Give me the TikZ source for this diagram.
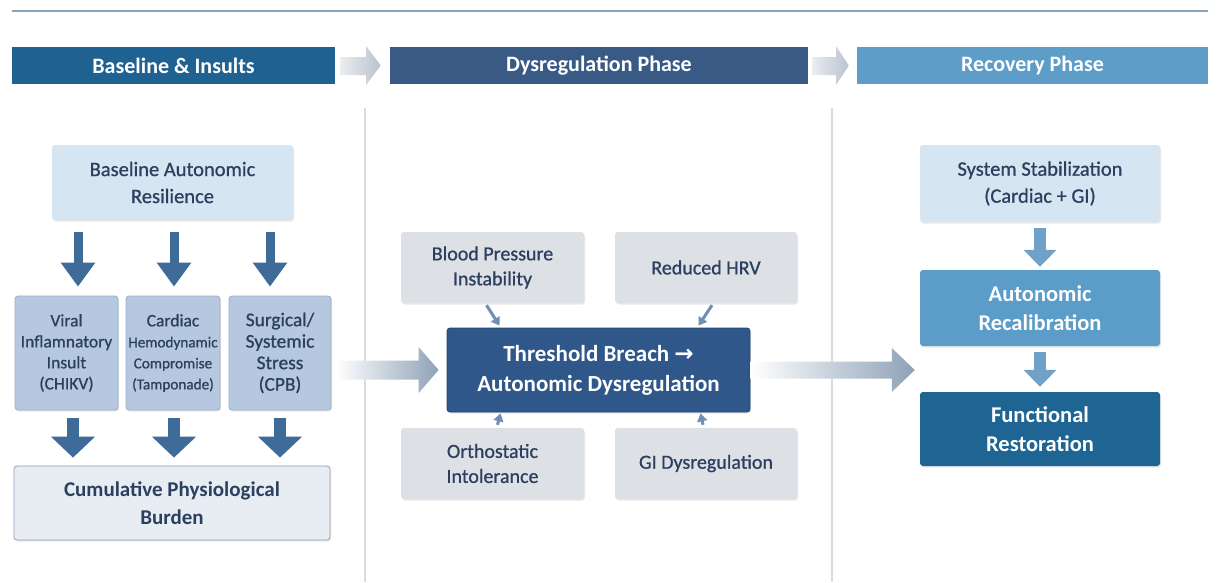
\documentclass[tikz,border=0pt]{standalone}
\usepackage{fontspec}
\setmainfont{Carlito}
\newfontfamily\medfont{Carlito}[FakeBold=0.8]
\newfontfamily\arrfont{DejaVu Sans}
\usetikzlibrary{arrows.meta,calc,shadows}
\definecolor{hdrA}{HTML}{1F6190}
\definecolor{hdrB}{HTML}{3A5A86}
\definecolor{hdrC}{HTML}{5D9DC8}
\definecolor{txtD}{HTML}{2B3F5E}
\definecolor{lightBlue}{HTML}{D5E5F1}
\definecolor{insFill}{HTML}{B6C8DF}
\definecolor{insLine}{HTML}{9AAFCB}
\definecolor{cumFill}{HTML}{E8EDF4}
\definecolor{cumLine}{HTML}{8E9EB3}
\definecolor{grayFill}{HTML}{DDE0E5}
\definecolor{thrFill}{HTML}{2F578A}
\definecolor{thrLine}{HTML}{23436F}
\definecolor{recFill}{HTML}{5B9CC8}
\definecolor{funcFill}{HTML}{1F6594}
\definecolor{arrDark}{HTML}{3F6B98}
\definecolor{arrSmall}{HTML}{6F90B4}
\definecolor{arrRight}{HTML}{6FA1C9}
\definecolor{sepGray}{HTML}{D8DBE0}
\definecolor{bigGray}{HTML}{8FA2B8}
\definecolor{hdrArr}{HTML}{B9C3CF}
\definecolor{topLine}{HTML}{8AA2BC}
\begin{document}
\begin{tikzpicture}[x=1pt,y=-1pt,
  box/.style={rounded corners=3pt,align=center,inner sep=2pt,
    drop shadow={opacity=0.18,shadow xshift=1pt,shadow yshift=-1.5pt}},
  hdr/.style={minimum height=37pt,text=white,font=\fontsize{22}{24}\selectfont\bfseries,inner sep=0pt,align=center},
  lbox/.style={box,fill=lightBlue,text=txtD,font=\medfont\fontsize{20.5}{27}\selectfont},
  ins/.style={box,fill=insFill,draw=insLine,line width=0.8pt,text=txtD,minimum height=114pt,font=\medfont\fontsize{17.5}{21}\selectfont},
  gbox/.style={box,fill=grayFill,text=txtD,minimum width=183pt,minimum height=71pt,font=\medfont\fontsize{20}{25}\selectfont},
  bigdown/.style={draw=arrDark,line width=9pt,-{Triangle[width=33pt,length=24pt]}},
  bigdownB/.style={draw=arrDark,line width=12pt,-{Triangle[width=43pt,length=21pt]}},
  rdown/.style={draw=arrRight,line width=12pt,-{Triangle[width=32pt,length=17pt]}},
  small/.style={draw=arrSmall,line width=3pt,-{Triangle[width=10pt,length=8pt]}}
]
\useasboundingbox (0,0) rectangle (1220,582);
\fill[white] (0,0) rectangle (1220,582);

% top rule
\draw[topLine,line width=2pt] (12,11) -- (1208,11);

% separators
\draw[sepGray,line width=1.5pt] (365,108) -- (365,582);
\draw[sepGray,line width=1.5pt] (832,108) -- (832,582);

% headers
\node[hdr,fill=hdrA,minimum width=323pt] (h1) at (173.5,65.5) {Baseline \& Insults};
\node[hdr,fill=hdrB,minimum width=418pt] (h2) at (599,65.5) {Dysregulation Phase};
\node[hdr,fill=hdrC,minimum width=351pt] (h3) at (1032.5,65.5) {Recovery Phase};

% header arrows
\shade[left color=grayFill!60,right color=hdrArr]
  ([xshift=5]h1.east |- 0,57) -- (366,57) -- (366,46) -- ([xshift=-9]h2.west) -- (366,85) -- (366,75) -- ([xshift=5]h1.east |- 0,75) -- cycle;
\shade[left color=grayFill!60,right color=hdrArr]
  ([xshift=4]h2.east |- 0,57) -- (836,57) -- (836,46) -- ([xshift=-8]h3.west) -- (836,85) -- (836,75) -- ([xshift=4]h2.east |- 0,75) -- cycle;

% left column
\node[lbox,minimum width=241pt,minimum height=75pt] (base) at (172.5,182.5) {Baseline Autonomic\\Resilience};
\node[ins,minimum width=103pt] (viral) at (66.5,353) {Viral\\Inflamnatory\\Insult\\(CHIKV)};
\node[ins,minimum width=94pt] (card) at (173,353) {Cardiac\\{\fontsize{15.2}{20}\selectfont Hemodynamic}\\{\fontsize{15.2}{20}\selectfont Compromise}\\{\fontsize{15.2}{20}\selectfont (Tamponade)}};
\node[ins,minimum width=102pt,font=\medfont\fontsize{19.4}{21.5}\selectfont] (surg) at (280,353) {Surgical/\\Systemic\\Stress\\(CPB)};
\node[box,fill=cumFill,draw=cumLine,line width=0.8pt,text=txtD,minimum width=316pt,minimum height=74pt,font=\fontsize{21}{28}\selectfont\bfseries] (cum) at (172,503) {Cumulative Physiological\\Burden};

\draw[bigdown] ([xshift=11.5]viral.north |- base.south) ++(0,12) -- ([xshift=11.5,yshift=9]viral.north);
\draw[bigdown] ([xshift=1]card.north |- base.south) ++(0,12) -- ([xshift=1,yshift=9]card.north);
\draw[bigdown] ([xshift=-10]surg.north |- base.south) ++(0,12) -- ([xshift=-10,yshift=9]surg.north);

\draw[bigdownB] ([xshift=6.5,yshift=-8]viral.south) -- ([xshift=6.5,yshift=8]viral.south |- cum.north);
\draw[bigdownB] ([xshift=1,yshift=-8]card.south) -- ([xshift=1,yshift=8]card.south |- cum.north);
\draw[bigdownB] ([yshift=-8]surg.south) -- ([yshift=8]surg.south |- cum.north);

% middle column
\node[gbox] (bp) at (492.5,267.5) {Blood Pressure\\Instability};
\node[gbox,minimum width=182pt] (hrv) at (706,267.5) {Reduced HRV};
\node[gbox] (orth) at (492.5,463.5) {Orthostatic\\Intolerance};
\node[gbox,minimum width=182pt] (gi) at (706,463.5) {GI Dysregulation};
\node[box,fill=thrFill,draw=thrLine,line width=0.8pt,text=white,minimum width=303pt,minimum height=84pt,font=\fontsize{23}{30}\selectfont\bfseries] (thr) at (598.5,370) {Threshold Breach {\arrfont\bfseries →}\\Autonomic Dysregulation};

\draw[small] ([xshift=-6,yshift=-2]bp.south) -- ([xshift=-99,yshift=2]thr.north);
\draw[small] ([xshift=6,yshift=-2]hrv.south) -- ([xshift=100,yshift=2]thr.north);
\draw[small] ([xshift=5,yshift=3]orth.north) -- ([xshift=-98,yshift=-1]thr.south);
\draw[small] ([xshift=-3,yshift=3]gi.north) -- ([xshift=102,yshift=-1]thr.south);

% big gradient arrows
\coordinate (la) at ([xshift=4]surg.east |- thr.west);
\coordinate (lb) at ([xshift=-8]thr.west);
\shade[left color=white,right color=bigGray]
  ($(la)+(0,-9.5)$) -- ($(lb)+(-20,-9.5)$) -- ($(lb)+(-20,-23)$) -- (lb) --
  ($(lb)+(-20,23)$) -- ($(lb)+(-20,9.5)$) -- ($(la)+(0,9.5)$) -- cycle;

% right column
\node[lbox,fill=lightBlue,minimum width=240pt,minimum height=77pt,font=\medfont\fontsize{20.5}{27}\selectfont] (stab) at (1040,183.5) {System Stabilization\\(Cardiac + GI)};
\node[box,fill=recFill,text=white,minimum width=240pt,minimum height=76pt,font=\fontsize{22.5}{29}\selectfont\bfseries] (recal) at (1040,308) {Autonomic\\Recalibration};
\node[box,fill=funcFill,text=white,minimum width=240pt,minimum height=74pt,font=\fontsize{22.5}{29}\selectfont\bfseries] (func) at (1040,429) {Functional\\Restoration};

\draw[rdown] ([yshift=-6]stab.south) -- ([yshift=3]recal.north);
\draw[rdown] ([yshift=-6]recal.south) -- ([yshift=5]func.north);

\coordinate (ra) at (thr.east);
\coordinate (rb) at ([xshift=-5]recal.west |- thr.east);
\shade[left color=white,right color=bigGray]
  ($(ra)+(0,-8.5)$) -- ($(rb)+(-23,-8.5)$) -- ($(rb)+(-23,-22)$) -- (rb) --
  ($(rb)+(-23,22)$) -- ($(rb)+(-23,8.5)$) -- ($(ra)+(0,8.5)$) -- cycle;
\end{tikzpicture}
\end{document}
